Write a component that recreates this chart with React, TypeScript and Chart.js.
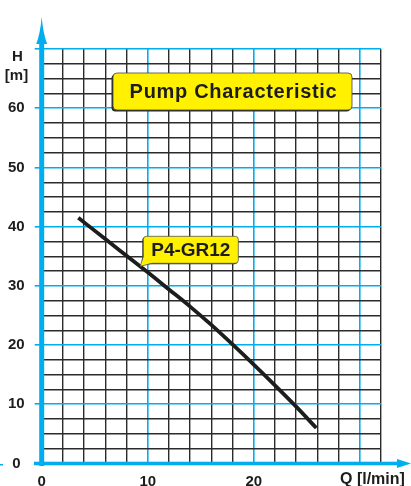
import React, { useEffect, useRef } from "react";
import { Chart, registerables } from "chart.js";

Chart.register(...registerables);

// ---- data ----
const flowQ = [3.45, 6, 8, 10, 12, 14, 16, 18, 20, 22, 24, 25.9];
const headH = [41.5, 37.9, 35.1, 32.3, 29.4, 26.5, 23.4, 20.1, 16.7, 13.2, 9.6, 6.0];
const xTickLabels = [0, 10, 20];
const yTickLabels = [0, 10, 20, 30, 40, 50, 60];
const curveName = "P4-GR12";
const chartTitle = "Pump Characteristic";
const yAxisTitle = ["H", "[m]"];
const xAxisTitle = "Q [l/min]";
const calloutAnchor = { q: 9.3, h: 33.3 };

const BLUE = "#00AEEF";
const GRID = "#2b2b2b";
const YELLOW = "#FFF100";
const INK = "#1d1d1b";
const FONT = "'Liberation Sans', Arial, sans-serif";

function roundRect(ctx: CanvasRenderingContext2D, x: number, y: number, w: number, h: number, r: number) {
  ctx.beginPath();
  ctx.moveTo(x + r, y);
  ctx.lineTo(x + w - r, y);
  ctx.quadraticCurveTo(x + w, y, x + w, y + r);
  ctx.lineTo(x + w, y + h - r);
  ctx.quadraticCurveTo(x + w, y + h, x + w - r, y + h);
  ctx.lineTo(x + r, y + h);
  ctx.quadraticCurveTo(x, y + h, x, y + h - r);
  ctx.lineTo(x, y + r);
  ctx.quadraticCurveTo(x, y, x + r, y);
  ctx.closePath();
}

const decor = {
  id: "decor",
  afterDraw(chart: any) {
    const { ctx, scales } = chart;
    const xs = scales.x;
    const ys = scales.y;
    const x0 = xs.getPixelForValue(0);
    const y0 = ys.getPixelForValue(0);
    ctx.save();
    ctx.fillStyle = BLUE;
    // y axis with arrow
    ctx.fillRect(x0 - 2.5, 42, 5, y0 + 2.5 - 42);
    ctx.beginPath();
    ctx.moveTo(x0, 17);
    ctx.quadraticCurveTo(x0 - 1.5, 34, x0 - 5.5, 44);
    ctx.lineTo(x0 + 5.5, 44);
    ctx.quadraticCurveTo(x0 + 1.5, 34, x0, 17);
    ctx.closePath();
    ctx.fill();
    // x axis with arrow
    ctx.fillRect(34, y0 - 1.8, 365, 3.6);
    ctx.beginPath();
    ctx.moveTo(411, y0);
    ctx.lineTo(397, y0 - 4.5);
    ctx.lineTo(397, y0 + 4.5);
    ctx.closePath();
    ctx.fill();
    ctx.fillRect(0, y0 + 0.5, 3, 1.5);

    // axis titles
    ctx.fillStyle = INK;
    ctx.font = `bold 15px ${FONT}`;
    ctx.textAlign = "center";
    ctx.textBaseline = "middle";
    ctx.fillText(yAxisTitle[0], 17.5, 57);
    ctx.fillText(yAxisTitle[1], 16.5, 76);
    ctx.font = `bold 16px ${FONT}`;
    ctx.textAlign = "left";
    ctx.fillText(xAxisTitle, 340, 480);

    // title box
    const tb = { x: 113, y: 73, w: 239, h: 37 };
    ctx.fillStyle = "#2a2a2a";
    roundRect(ctx, tb.x - 1.5, tb.y + 1.5, tb.w, tb.h, 4);
    ctx.fill();
    ctx.fillStyle = YELLOW;
    roundRect(ctx, tb.x, tb.y, tb.w, tb.h, 4);
    ctx.fill();
    ctx.strokeStyle = "#444";
    ctx.lineWidth = 0.8;
    ctx.stroke();
    ctx.fillStyle = INK;
    ctx.font = `bold 20px ${FONT}`;
    (ctx as any).letterSpacing = "0.7px";
    ctx.textAlign = "center";
    ctx.fillText(chartTitle, tb.x + tb.w / 2 + 1, tb.y + tb.h / 2 + 1);
    (ctx as any).letterSpacing = "0px";

    // callout
    const tx = xs.getPixelForValue(calloutAnchor.q);
    const ty = ys.getPixelForValue(calloutAnchor.h);
    const cb = { x: tx + 3, y: ty - 30, w: 95, h: 27 };
    ctx.fillStyle = "#2a2a2a";
    roundRect(ctx, cb.x - 1, cb.y + 1, cb.w, cb.h, 3);
    ctx.fill();
    ctx.fillStyle = YELLOW;
    roundRect(ctx, cb.x, cb.y, cb.w, cb.h, 3);
    ctx.fill();
    ctx.strokeStyle = "#555";
    ctx.lineWidth = 0.8;
    ctx.stroke();
    // pointer
    ctx.beginPath();
    ctx.moveTo(cb.x + 1, cb.y + cb.h - 8);
    ctx.lineTo(tx, ty);
    ctx.lineTo(cb.x + 9, cb.y + cb.h - 0.5);
    ctx.closePath();
    ctx.fillStyle = YELLOW;
    ctx.fill();
    ctx.strokeStyle = "#555";
    ctx.beginPath();
    ctx.moveTo(cb.x, cb.y + cb.h - 8);
    ctx.lineTo(tx, ty);
    ctx.lineTo(cb.x + 9, cb.y + cb.h);
    ctx.stroke();
    ctx.fillStyle = INK;
    ctx.font = `bold 19px ${FONT}`;
    ctx.textAlign = "center";
    ctx.fillText(curveName, cb.x + cb.w / 2, cb.y + cb.h / 2 + 1);
    ctx.restore();
  },
};

export default function App() {
  const ref = useRef<HTMLCanvasElement | null>(null);
  useEffect(() => {
    if (!ref.current) return;
    const chart = new Chart(ref.current, {
      type: "scatter",
      data: {
        datasets: [
          {
            label: curveName,
            data: flowQ.map((q, i) => ({ x: q, y: headH[i] })),
            showLine: true,
            borderColor: INK,
            borderWidth: 3.8,
            pointRadius: 0,
            cubicInterpolationMode: "monotone",
            borderCapStyle: "butt",
          },
        ],
      },
      plugins: [decor],
      options: {
        animation: false,
        responsive: true,
        maintainAspectRatio: false,
        layout: { padding: { left: 0, right: 30, top: 49, bottom: 0 } },
        plugins: { legend: { display: false }, tooltip: { enabled: false }, title: { display: false } },
        scales: {
          x: {
            type: "linear",
            min: 0,
            max: 32,
            afterFit: (s: any) => {
              s.height = 22.5;
            },
            border: { display: false },
            grid: {
              drawTicks: false,
              color: (c: any) => (c.tick && c.tick.value % 10 === 0 ? BLUE : GRID),
              lineWidth: (c: any) => (c.tick && c.tick.value % 10 === 0 ? 1.6 : 1.4),
            },
            ticks: {
              stepSize: 2,
              autoSkip: false,
              maxRotation: 0,
              padding: 9,
              color: INK,
              font: { family: FONT, size: 15, weight: "bold" },
              callback: (v: any) => (xTickLabels.includes(Number(v)) ? String(v) : ""),
            },
          },
          y: {
            type: "linear",
            min: 0,
            max: 70,
            afterFit: (s: any) => {
              s.width = 41.7;
            },
            border: { display: false },
            grid: {
              drawTicks: true,
              tickLength: 7,
              tickColor: (c: any) => (c.tick && c.tick.value % 10 === 0 ? BLUE : "rgba(0,0,0,0)"),
              color: (c: any) => (c.tick && c.tick.value % 10 === 0 ? BLUE : GRID),
              lineWidth: (c: any) => (c.tick && c.tick.value % 10 === 0 ? 1.6 : 1.4),
            },
            ticks: {
              stepSize: 2.5,
              autoSkip: false,
              padding: 10,
              crossAlign: "center",
              color: INK,
              font: { family: FONT, size: 15, weight: "bold" },
              callback: (v: any) => (yTickLabels.includes(Number(v)) ? String(v) : ""),
            },
          },
        },
      } as any,
    });
    return () => chart.destroy();
  }, []);
  return (
    <div style={{ position: "fixed", left: 0, top: 0, width: 411, height: 486, background: "#fff" }}>
      <canvas ref={ref} />
    </div>
  );
}
